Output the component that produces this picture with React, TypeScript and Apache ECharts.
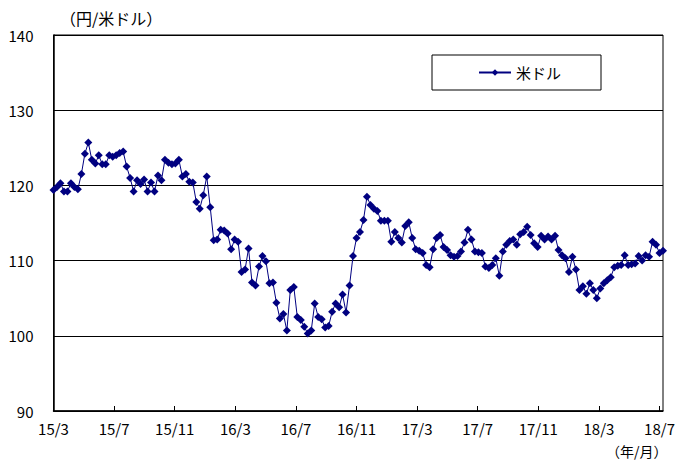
import React, { useEffect, useRef } from "react";
import * as echarts from "echarts";

// Weekly USD/JPY (yen per US dollar), late Mar 2015 – early Aug 2018
const rates2015 = [
  119.4, 119.8, 120.3, 119.2, 119.2, 120.3, 119.8, 119.5, 121.5, 124.2,
  125.7, 123.4, 122.9, 124.0, 122.8, 122.8, 124.0, 123.8, 124.0, 124.3,
  124.5, 122.5, 121.0, 119.2, 120.7, 120.2, 120.8, 119.2, 120.4, 119.2,
  121.3, 120.7, 123.4, 123.0, 122.8, 122.9, 123.4, 121.2, 121.5, 120.5,
];
const rates2016 = [
  120.4, 117.8, 116.9, 118.7, 121.2, 117.1, 112.7, 112.8, 114.1, 114.0,
  113.6, 111.5, 112.8, 112.5, 108.5, 108.8, 111.6, 107.1, 106.7, 109.2,
  110.6, 109.9, 107.0, 107.1, 104.4, 102.3, 102.9, 100.7, 106.1, 106.5,
  102.5, 102.1, 101.2, 100.3, 100.7, 104.3, 102.5, 102.2, 101.1, 101.3,
  103.2, 104.3, 103.8, 105.5, 103.1, 106.7, 110.6, 113.0, 113.8, 115.4,
  118.5, 117.4, 116.9,
];
const rates2017 = [
  116.6, 115.3, 115.3, 115.3, 112.5, 113.8, 113.0, 112.4, 114.6, 115.1,
  113.0, 111.5, 111.3, 111.0, 109.4, 109.1, 111.5, 113.0, 113.4, 111.8,
  111.4, 110.7, 110.5, 110.6, 111.2, 112.4, 114.1, 112.8, 111.2, 111.1,
  111.0, 109.2, 109.0, 109.4, 110.3, 108.0, 111.2, 112.1, 112.6, 112.8,
  112.1, 113.5, 113.8, 114.5, 113.4, 112.3, 111.8, 113.3, 112.8, 113.2,
  112.8, 113.3,
];
const rates2018 = [
  111.4, 110.7, 110.3, 108.5, 110.5, 108.8, 106.1, 106.6, 105.6, 107.0,
  106.1, 105.0, 106.3, 107.0, 107.4, 107.8, 109.1, 109.3, 109.4, 110.7,
  109.4, 109.5, 109.6, 110.6, 110.0, 110.7, 110.5, 112.5, 112.1, 111.0,
  111.3,
];

const xTickLabels = [
  "15/3", "15/7", "15/11", "16/3", "16/7", "16/11",
  "17/3", "17/7", "17/11", "18/3", "18/7",
];
const seriesName = "米ドル";
const yUnit = "（円/米ドル）";
const xUnit = "（年/月）";

const FONT = "'Noto Sans CJK JP', 'Noto Sans', sans-serif";
const TICK_STEP = 17.4;

export default function App() {
  const ref = useRef<HTMLDivElement>(null);

  useEffect(() => {
    if (!ref.current) return;
    const chart = echarts.init(ref.current, undefined, { renderer: "svg" });
    const values = [...rates2015, ...rates2016, ...rates2017, ...rates2018];
    const data = values.map((v, i) => [i, v]);

    chart.setOption({
      animation: false,
      backgroundColor: "#fff",
      textStyle: { fontFamily: FONT, color: "#000" },
      grid: {
        left: 53.5,
        right: 17,
        top: 35,
        bottom: 51,
        show: true,
        borderColor: "#000",
        borderWidth: 1,
        backgroundColor: "transparent",
      },
      legend: {
        data: [seriesName],
        left: 432,
        top: 55,
        backgroundColor: "#fff",
        borderColor: "#000",
        borderWidth: 1,
        borderRadius: 0,
        padding: [10, 40, 10, 46],
        itemWidth: 32,
        itemHeight: 8,
        itemGap: 5,
        textStyle: { fontSize: 15, color: "#000", fontFamily: FONT },
      },
      xAxis: {
        type: "value",
        min: 0,
        max: values.length - 1,
        interval: TICK_STEP,
        axisLine: { show: true, lineStyle: { color: "#000", width: 1.5 } },
        axisTick: {
          show: true,
          inside: true,
          length: 5,
          lineStyle: { color: "#000", width: 1 },
        },
        axisLabel: {
          fontSize: 15,
          color: "#000",
          fontFamily: FONT,
          margin: 10,
          showMaxLabel: false,
          formatter: (v: number) => {
            const k = Math.round(v / TICK_STEP);
            if (Math.abs(v - k * TICK_STEP) < 0.01 && k < xTickLabels.length) {
              return xTickLabels[k];
            }
            return "";
          },
        },
        splitLine: { show: false },
      },
      yAxis: {
        type: "value",
        min: 90,
        max: 140,
        interval: 10,
        axisLine: { show: true, lineStyle: { color: "#000", width: 1.5 } },
        axisTick: { show: false },
        axisLabel: {
          fontSize: 15,
          color: "#000",
          fontFamily: FONT,
          margin: 20,
        },
        splitLine: { show: true, lineStyle: { color: "#000", width: 1 } },
      },
      graphic: [
        {
          type: "text",
          left: 60,
          top: 10,
          style: {
            text: yUnit,
            fontSize: 16,
            fontFamily: FONT,
            fill: "#000",
          },
        },
        {
          type: "text",
          x: 606,
          y: 451,
          style: {
            text: xUnit,
            fontSize: 14,
            fontFamily: FONT,
            fill: "#000",
            verticalAlign: "middle",
            align: "left",
          },
        },
      ],
      series: [
        {
          name: seriesName,
          type: "line",
          data,
          symbol: "diamond",
          symbolSize: 8,
          lineStyle: { color: "#000080", width: 1 },
          itemStyle: { color: "#000080" },
        },
      ],
    });

    return () => chart.dispose();
  }, []);

  return (
    <div
      ref={ref}
      style={{ position: "fixed", left: 0, top: 0, width: 680, height: 462 }}
    />
  );
}
